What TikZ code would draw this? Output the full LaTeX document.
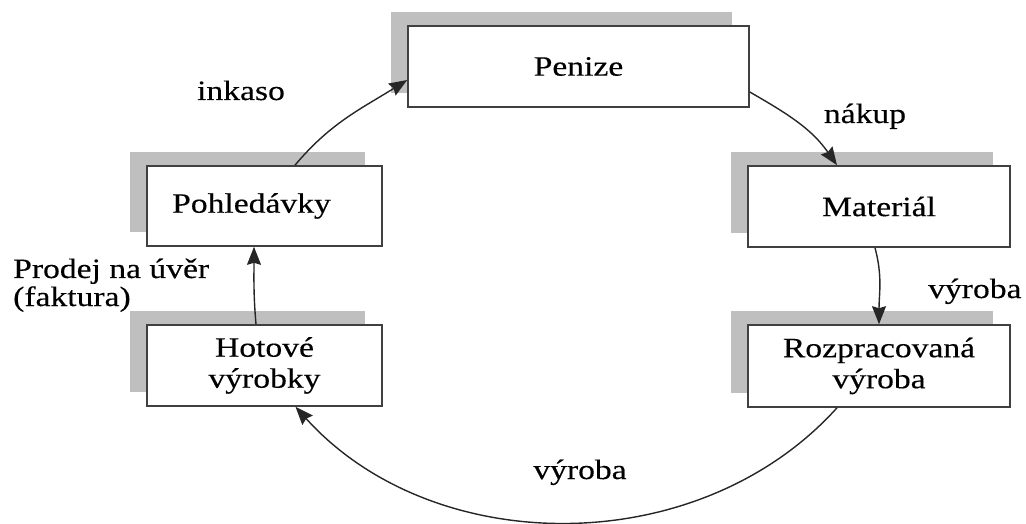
\documentclass[tikz,border=0pt]{standalone}
\usepackage{fontspec}
\setmainfont{Liberation Serif}[FakeStretch=1.2,FakeBold=0.3]
\usetikzlibrary{shadows,arrows.meta}
\begin{document}
\begin{tikzpicture}[x=1pt,y=1pt,
  box/.style={draw=black!75, line width=1.6pt, fill=white, minimum height=81pt,
    inner sep=0pt, align=center, font=\fontsize{28}{31}\selectfont,
    general shadow={fill=black!25, shadow xshift=-17pt, shadow yshift=14pt}},
  lbl/.style={font=\fontsize{28}{31}\selectfont, inner sep=0pt},
  flow/.style={draw=black!85, line width=1.4pt, -{Stealth[length=18pt,width=14pt,inset=2pt]}}]
\useasboundingbox (0,0) rectangle (1026,523);
\node[box, minimum width=341pt] (pen) at (578.5,456.5) {Penize};
\node[box, minimum width=262pt] (mat) at (879,316.5) {Materiál};
\node[box, minimum width=262pt, minimum height=82pt] (roz) at (879,157) {Rozpracovaná\\výroba};
\node[box, minimum width=235pt, minimum height=80pt] (pohl) at (264.5,317) {Pohledávky\hspace*{26pt}};
\node[box, minimum width=235pt] (hot) at (264.5,157.5) {Hotové\\výrobky};
\node[lbl, anchor=base] (ink) at (241,423) {inkaso};
\node[lbl, anchor=base] (nak) at (865,400) {nákup};
\node[lbl, anchor=base west] (prod1) at (13,245) {Prodej na úvěr};
\node[lbl, anchor=base west] (prod2) at (13,217) {(faktura)};
\node[lbl, anchor=base west] (vyr1) at (928,225) {výroba};
\node[lbl, anchor=base] (vyr2) at (580,44) {výroba};
\draw[flow] ([xshift=30.5pt]pohl.north) to[out=50,in=212] ([yshift=-13.5pt]pen.west);
\draw[flow] ([yshift=-25.5pt]pen.east) to[out=-30,in=125] ([xshift=-42pt]mat.north);
\draw[flow] ([xshift=-4pt]mat.south) to[out=-75,in=90] (roz.north);
\draw[flow] ([xshift=-42pt]roz.south) .. controls +(-138,-153) and +(138,-153) .. ([xshift=31pt]hot.south);
\draw[flow] ([xshift=-8.5pt]hot.north) to[out=95,in=-90] ([xshift=-10.5pt]pohl.south);
\end{tikzpicture}
\end{document}
